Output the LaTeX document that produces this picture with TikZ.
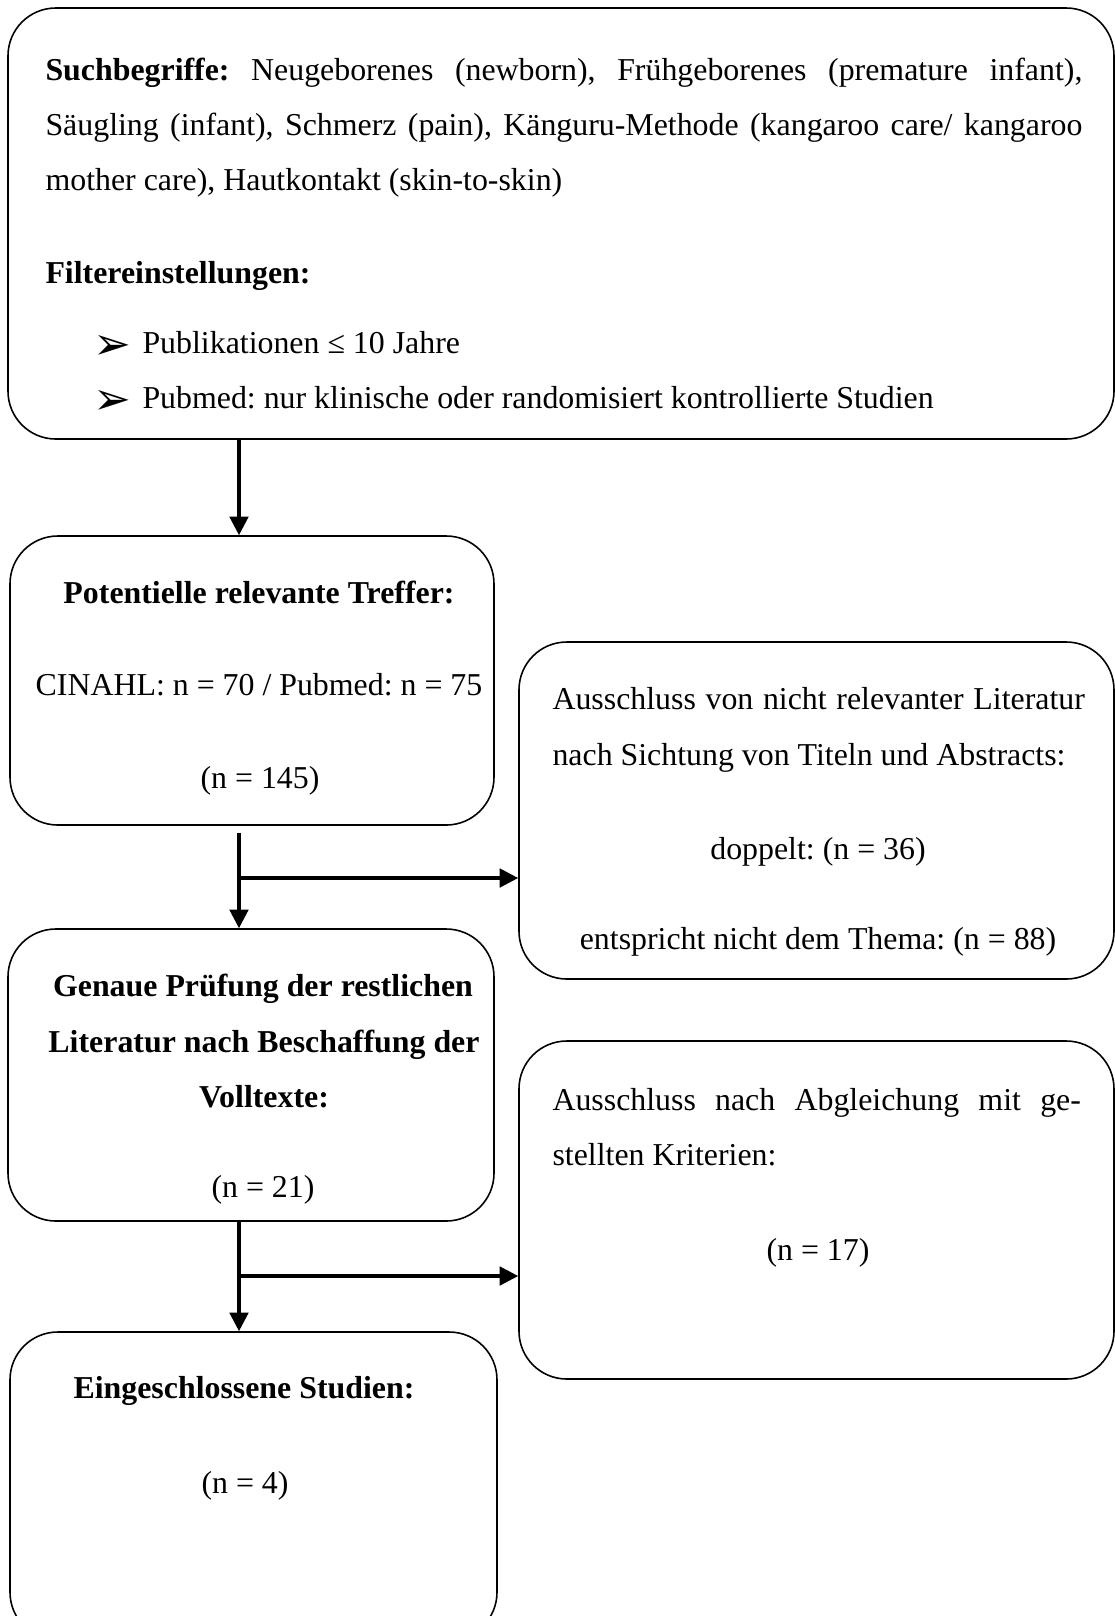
\documentclass[tikz,border=0pt]{standalone}
\usepackage{fontspec}
\setmainfont{Liberation Serif}
\newfontfamily\dingfont{DejaVu Sans}
\usetikzlibrary{arrows.meta}
\usetikzlibrary{fit}
\frenchspacing

\tikzset{
  box/.style={draw, rounded corners=18pt, line width=0.6pt, inner sep=0pt},
  txt/.style={inner sep=0pt, font=\fontsize{12}{20.7}\selectfont},
  arr/.style={-{Triangle[length=7pt,width=7pt]}, line width=1.2pt},
}

\begin{document}
\begin{tikzpicture}[x=0.3766pt, y=-0.3766pt]
    \clip (0,0) rectangle (1115,1616);


    \node[box, fit={(8,8) (1114,439)}]       (such)    {};
    \node[box, fit={(10,536) (494,825)}]     (treffer) {};
    \node[box, fit={(519,642) (1114,979)}]   (aus1)    {};
    \node[box, fit={(8,929) (494,1221)}]     (pruef)   {};
    \node[box, fit={(519,1041) (1114,1379)}] (aus2)    {};
    \node[box, fit={(10,1332) (497,1640)}]   (studien) {};


    \node[txt, anchor=base west] (such1) at (45,80)  {\makebox[390.5pt][s]{\textbf{Suchbegriffe:} Neugeborenes (newborn), Frühgeborenes (premature infant),}};
    \node[txt, anchor=base west] (such2) at (45,135) {\makebox[390.5pt][s]{Säugling (infant), Schmerz (pain), Känguru-Methode (kangaroo care/ kangaroo}};
    \node[txt, anchor=base west] (such3) at (45,190) {mother care), Hautkontakt (skin-to-skin)};
    \node[txt, anchor=base west] (filter) at (45,283) {\textbf{Filtereinstellungen:}};
    \node[txt, anchor=base west] (pfeil1) at (93,359) {\dingfont\fontsize{17}{20}\selectfont ➢};
    \node[txt, anchor=base west] (filter1) at (142,353) {Publikationen ≤ 10 Jahre};
    \node[txt, anchor=base west] (pfeil2) at (93,414) {\dingfont\fontsize{17}{20}\selectfont ➢};
    \node[txt, anchor=base west] (filter2) at (142,408) {Pubmed: nur klinische oder randomisiert kontrollierte Studien};

    \node[txt, anchor=base] (treffer1) at (259,603) {\textbf{Potentielle relevante Treffer:}};
    \node[txt, anchor=base] (treffer2) at (259,695) {CINAHL: n = 70 / Pubmed: n = 75};
    \node[txt, anchor=base] (treffer3) at (260,788) {(n = 145)};

    \node[txt, anchor=base west] (aus11) at (552,709) {\makebox[200.5pt][s]{Ausschluss von nicht relevanter Literatur}};
    \node[txt, anchor=base west] (aus12) at (552,765) {nach Sichtung von Titeln und Abstracts:};
    \node[txt, anchor=base] (aus13) at (818,859) {doppelt: (n = 36)};
    \node[txt, anchor=base] (aus14) at (818,949) {entspricht nicht dem Thema: (n = 88)};

    \node[txt, anchor=base] (pruef1) at (263,996)  {\textbf{Genaue Prüfung der restlichen}};
    \node[txt, anchor=base] (pruef2) at (264,1052) {\textbf{Literatur nach Beschaffung der}};
    \node[txt, anchor=base] (pruef3) at (264,1107) {\textbf{Volltexte:}};
    \node[txt, anchor=base] (pruef4) at (263,1197) {(n = 21)};

    \node[txt, anchor=base west] (aus21) at (552,1110) {\makebox[199pt][s]{Ausschluss nach Abgleichung mit ge-}};
    \node[txt, anchor=base west] (aus22) at (552,1165) {stellten Kriterien:};
    \node[txt, anchor=base] (aus23) at (818,1260) {(n = 17)};

    \node[txt, anchor=base] (studien1) at (244,1398) {\textbf{Eingeschlossene Studien:}};
    \node[txt, anchor=base] (studien2) at (245,1493) {(n = 4)};


    \coordinate (ax)  at (239,0);
    \coordinate (br1) at (239,878);
    \coordinate (br2) at (239,1276);

    \draw[arr] (such.south -| ax) -- (treffer.north -| ax);
    \draw[arr, shorten <=2.6pt] (treffer.south -| ax) -- (pruef.north -| ax);
    \draw[arr] (br1) -- (aus1.west |- br1);
    \draw[arr] (pruef.south -| ax) -- (studien.north -| ax);
    \draw[arr] (br2) -- (aus2.west |- br2);
\end{tikzpicture}
\end{document}
